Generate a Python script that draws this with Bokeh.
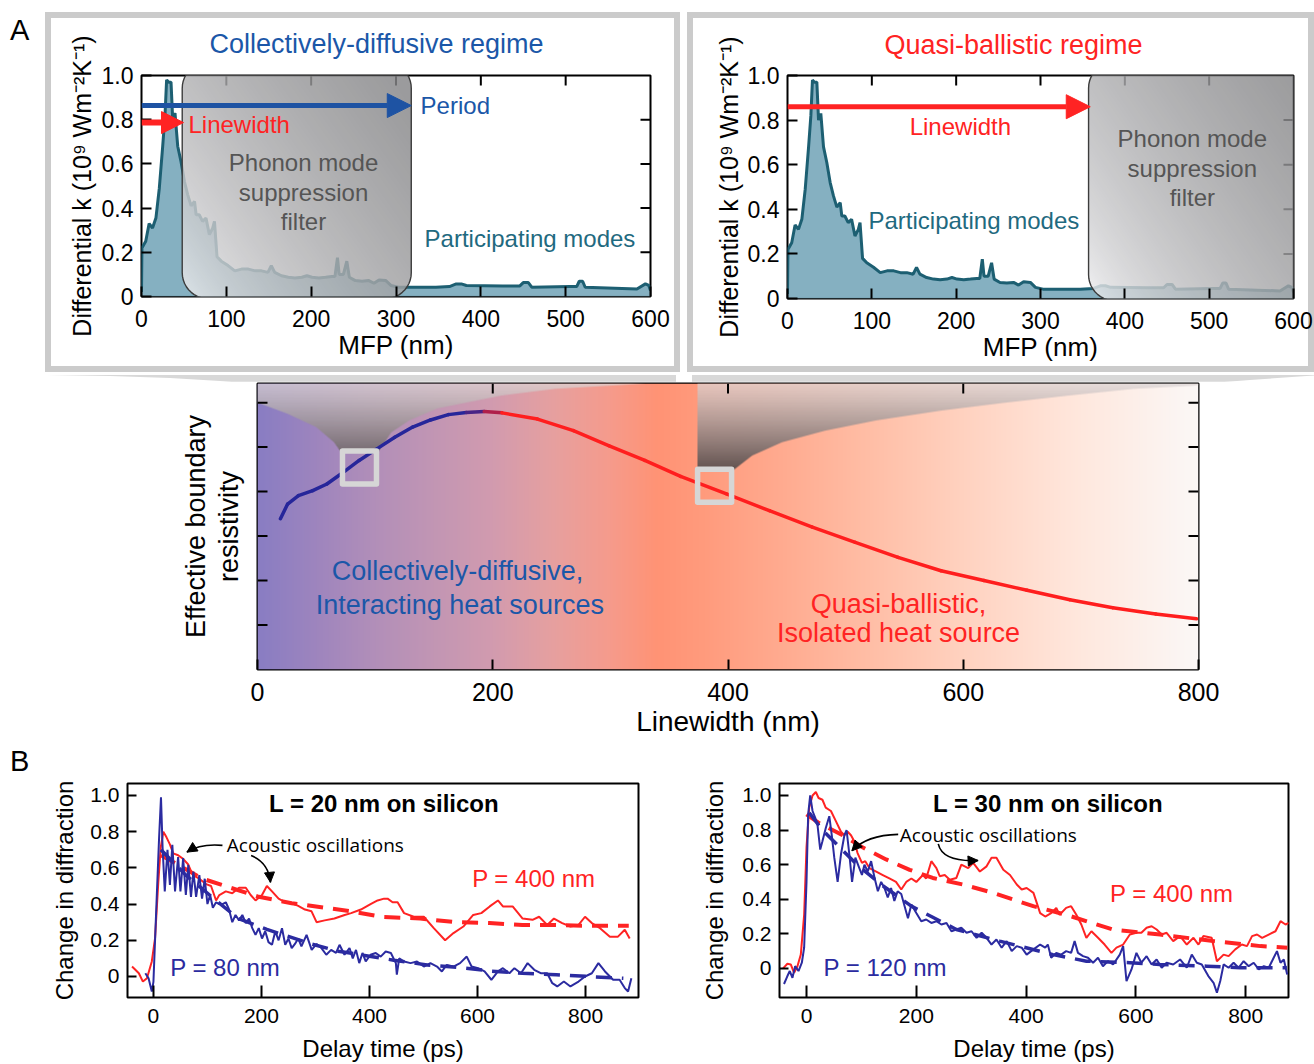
import numpy as np
from bokeh.plotting import figure
from bokeh.models import (Range1d, LinearAxis, FixedTicker, Label, Arrow, NormalHead,
                          Div, Spacer)
from bokeh.layouts import row, column
from bokeh.embed import file_html
from bokeh.resources import INLINE

FONT = "Liberation Sans"
BLUE_T = "#1b57a8"
BLUE_A = "#1e53a3"
RED = "#ff2323"
TEAL = "#1f6a80"
NAVY = "#2b2ba0"
GRAY_T = "#555555"

# ---------------- Panel A (top): differential conductivity spectrum ----------------
mfp_nm = [0, 0.5, 5, 9, 13, 17, 21, 25, 27.7, 29.6,
          32, 34.8, 36.8, 39.5, 42.7, 46.6, 50.6, 54.5, 58.5, 62.5,
          64.4, 68, 72, 76, 80, 84, 86, 89, 94, 102,
          110, 118, 126, 134, 141.5, 149, 153, 157, 165, 173,
          181, 189, 195, 201, 209, 217, 224.5, 228, 231, 233,
          238, 242, 245, 252, 260, 268, 274, 280, 288, 294,
          303, 327, 347, 363, 371, 377, 383, 426, 446, 450,
          456, 460, 505, 513, 516, 520, 523, 584, 594, 598,
          600]
diff_k = [0.02, 0.22, 0.25, 0.33, 0.31, 0.355, 0.49, 0.68, 0.82, 0.98,
          0.97, 0.97, 0.80, 0.83, 0.68, 0.61, 0.52, 0.46, 0.41, 0.43,
          0.37, 0.37, 0.34, 0.355, 0.28, 0.31, 0.34, 0.18, 0.16, 0.14,
          0.116, 0.124, 0.124, 0.116, 0.116, 0.109, 0.139, 0.109, 0.094, 0.087,
          0.084, 0.087, 0.094, 0.087, 0.084, 0.087, 0.09, 0.09, 0.176, 0.10,
          0.10, 0.16, 0.087, 0.072, 0.069, 0.072, 0.06, 0.075, 0.072, 0.05,
          0.042, 0.042, 0.042, 0.045, 0.057, 0.057, 0.05, 0.048, 0.048, 0.063,
          0.063, 0.042, 0.045, 0.045, 0.069, 0.069, 0.042, 0.034, 0.057, 0.05,
          0.027]
mfp_ticks = [0, 100, 200, 300, 400, 500, 600]
mfp_tick_labels = ["0", "100", "200", "300", "400", "500", "600"]
dk_ticks = [0, 0.2, 0.4, 0.6, 0.8, 1.0]
dk_tick_labels = ["0", "0.2", "0.4", "0.6", "0.8", "1.0"]
filter_diffusive_nm = [48, 318]
filter_ballistic_nm = [357, 625]
period_nm = 318
linewidth_diffusive_nm = 49.5
linewidth_ballistic_nm = 359

# ---------------- Panel A (middle): effective boundary resistivity ----------------
linewidth_nm = [19.5, 25.6, 34.8, 46.9, 59, 71.2, 86.4, 101.5, 116.7, 131.9,
                147.1, 162.3, 177.5, 192.7, 207.8, 238, 268.6, 299, 329.3, 359.7,
                398.7, 435.2, 471.7, 508.2, 544.6, 581.1, 617.6, 654.2, 690.6, 727.1,
                763.6, 798.3]
boundary_res = [3.39, 3.72, 3.91, 4.02, 4.17, 4.40, 4.70, 4.96, 5.22, 5.45,
                5.61, 5.73, 5.78, 5.80, 5.77, 5.63, 5.37, 5.03, 4.70, 4.34,
                3.95, 3.57, 3.20, 2.86, 2.52, 2.22, 2.00, 1.78, 1.57, 1.39,
                1.25, 1.14]
lw_ticks = [0, 200, 400, 600, 800]
lw_tick_labels = ["0", "200", "400", "600", "800"]
res_ticks = [1, 2, 3, 4, 5, 6]
highlight_lw = [86.7, 388.6]
highlight_res = [4.54, 4.13]

# ---------------- Panel B: diffraction transients ----------------
t20_p400 = [-39.6, -27, -19.5, -12, -3, 3, 9, 13.4, 18.3, 24,
            30.5, 36.6, 45.7, 55, 64, 73, 85, 97.6, 106.7, 116,
            122, 134, 146, 158.5, 171, 180, 189, 201, 210, 219.5,
            231.7, 244, 256, 268, 280.5, 292.7, 302, 317, 335, 354,
            366, 384, 402, 415, 427,
            433.5, 442.7, 452, 464, 482, 500.6, 519, 540, 555.5, 573.8,
            592, 607, 622.6, 637.8, 647, 665, 683.5, 701.8, 714, 729,
            741.5, 756.7, 772, 787, 799, 811.6, 826.8, 845, 860, 872.6, 881.7]
d20_p400 = [0.055, 0.018, -0.028, -0.01, 0.083, 0.21, 0.52, 0.71, 0.80, 0.77,
            0.73, 0.68, 0.67, 0.65, 0.62, 0.56, 0.54, 0.51, 0.50, 0.42,
            0.45, 0.47, 0.46, 0.49, 0.49, 0.45, 0.42, 0.45, 0.50, 0.47,
            0.43, 0.41, 0.405, 0.39, 0.37, 0.36, 0.30, 0.31, 0.32, 0.34,
            0.35, 0.37, 0.40, 0.42, 0.43,
            0.43, 0.41, 0.41, 0.35, 0.33, 0.33, 0.267, 0.20, 0.24, 0.276,
            0.34, 0.35, 0.387, 0.42, 0.387, 0.387, 0.32, 0.313, 0.33, 0.285,
            0.32, 0.295, 0.276, 0.285, 0.33, 0.295, 0.267, 0.22, 0.22, 0.258, 0.21]
t20_p80 = [-15, -9, -3, 0, 6, 10.4, 14, 17, 21, 26,
           30.5, 35, 40, 45.7, 50, 55, 60, 64.6, 69.5, 74,
           79, 85, 90, 95, 100, 105, 110, 116, 122, 128,
           134, 140, 146, 152, 158.5, 164.6, 171, 177, 183, 189,
           195, 201, 207, 213, 219.5, 225.6, 231.7, 238, 244, 250,
           256, 262, 268, 274, 283.5, 293, 302, 311, 320, 329,
           338, 344.5, 353.7, 363, 369, 375, 381, 387, 393, 402,
           411.6, 420.7, 430,
           439.6, 448.8, 450.6, 455, 464, 476, 488, 500.6, 512.8, 525,
           534, 543, 555.5, 567.7, 580, 589, 601, 613, 625.6, 637.8,
           647, 659, 668.3, 680.5, 692.7, 705, 717, 729, 738.4, 747.6,
           759.8, 772, 787, 799, 811.6, 823.8, 836, 851, 863, 872.6,
           878.7, 884.8]
d20_p80 = [0.018, -0.01, -0.083, -0.03, 0.43, 0.76, 0.99, 0.71, 0.47, 0.70,
           0.506, 0.727, 0.47, 0.66, 0.47, 0.654, 0.45, 0.617, 0.44, 0.58,
           0.44, 0.56, 0.43, 0.54, 0.40, 0.45, 0.38, 0.41, 0.40, 0.40,
           0.41, 0.37, 0.30, 0.34, 0.31, 0.34, 0.295, 0.32, 0.267, 0.23,
           0.267, 0.21, 0.25, 0.19, 0.175, 0.25, 0.20, 0.267, 0.175, 0.21,
           0.157, 0.18, 0.21, 0.166, 0.23, 0.147, 0.18, 0.157, 0.12, 0.147,
           0.13, 0.175, 0.12, 0.157, 0.10, 0.147, 0.074, 0.13, 0.083, 0.12,
           0.13, 0.11, 0.138,
           0.13, 0.074, 0.01, 0.10, 0.083, 0.074, 0.083, 0.055, 0.074, 0.055,
           0.028, 0.064, 0.055, 0.074, 0.11, 0.055, 0.046, 0.028, -0.018, 0.028,
           0.046, 0.018, 0.046, 0.018, 0.074, 0.037, 0.018, 0.018, -0.037, -0.055,
           -0.028, -0.055, -0.028, 0.0, 0.018, 0.074, 0.028, -0.018, -0.018, -0.064,
           -0.083, -0.01]
fit20_p400_t = [14, 91, 195, 256, 366, 421, 494, 561, 622, 683, 738, 800, 880]
fit20_p400_d = [0.67, 0.54, 0.44, 0.405, 0.36, 0.33, 0.32, 0.30, 0.295, 0.285, 0.285, 0.28, 0.28]
fit20_p80_t = [14, 60, 120, 157, 210, 292, 342, 445, 507, 565, 625, 683, 746, 805, 870]
fit20_p80_d = [0.70, 0.56, 0.41, 0.32, 0.26, 0.18, 0.14, 0.09, 0.064, 0.05, 0.03, 0.018, 0.01, 0.0, -0.01]

t30_p400 = [-42.7, -34.8, -28.7, -22.6, -16.5, -10.4, -4.3, 0, 4.9, 11,
            17, 22, 29, 35, 44.5, 53.7, 62.8, 69, 75, 81,
            87, 93, 101, 107, 114.6, 127, 139, 151, 163, 172.6,
            181.7, 191, 200, 212, 218, 227.4, 236.6, 242.7, 251.8, 261,
            273, 282, 294.5, 303.7, 315.8, 328, 337, 346, 358.5, 370.7,
            383, 392, 401, 413.4, 425.6, 434.8,
            445.7, 455, 461, 473, 482, 491.5, 500.6, 509.8, 519, 531,
            543, 555.5, 564.6, 576.8, 589, 601, 610, 619.5, 628.7, 637.8,
            647, 656, 668, 680.5, 692.7, 704.9, 714, 723, 738, 747.6,
            759.8, 768.9, 781, 793, 802.4, 811.6, 820.7, 829.9, 842, 854.3,
            863.4, 872.6, 878.7]
d30_p400 = [0.0, 0.027, 0.023, -0.025, 0.013, 0.08, 0.31, 0.70, 0.93, 1.00,
            1.02, 0.985, 0.975, 0.93, 0.91, 0.85, 0.79, 0.77, 0.79, 0.77,
            0.735, 0.667, 0.61, 0.62, 0.58, 0.56, 0.54, 0.52, 0.50, 0.456,
            0.50, 0.52, 0.50, 0.54, 0.52, 0.62, 0.58, 0.533, 0.54, 0.513,
            0.523, 0.60, 0.58, 0.61, 0.56, 0.59, 0.64, 0.64, 0.57, 0.54,
            0.485, 0.456, 0.465, 0.437, 0.32, 0.30,
            0.32, 0.35, 0.31, 0.35, 0.36, 0.31, 0.254, 0.177, 0.215, 0.177,
            0.138, 0.09, 0.12, 0.138, 0.196, 0.206, 0.206, 0.235, 0.244, 0.225,
            0.196, 0.206, 0.158, 0.187, 0.138, 0.177, 0.138, 0.187, 0.177, 0.042,
            0.08, 0.071, 0.11, 0.138, 0.129, 0.187, 0.196, 0.177, 0.196, 0.215,
            0.273, 0.254, 0.263]
t30_p120 = [-41, -34.8, -30.5, -25.6, -20.7, -14.6, -8.5, -4.3, 0, 3,
            6.7, 11, 15.9, 20, 25, 29, 35, 41.5, 46, 50.6,
            56.7, 62.8, 69, 73, 78, 83, 89, 95, 101, 105.5,
            111.6, 117.7, 124, 130, 136, 142, 148, 154, 160, 166,
            172.6, 178.7, 184.8, 191, 200, 209, 218, 227.4, 236.6, 245.7,
            255, 264, 273, 282, 291.5, 300.6, 309.8, 319, 328, 337,
            346, 355.5, 364.6, 373.8, 383, 392, 401, 413.4, 425.6, 434.8,
            439.6, 445.7, 455, 464, 473, 482, 488.4, 494.5, 503.7, 512.8,
            522, 531, 540, 549, 558.5, 570.7, 576.8, 582.9, 592, 601,
            610, 619.5, 628.7, 637.8, 647, 656, 668, 680.5, 692.7, 701.8,
            711, 720, 732, 741.5, 747.6, 753.7, 759.8, 768.9, 778, 787,
            796.3, 805.5, 814.6, 823.8, 833, 842, 851, 857, 863.4, 869.5,
            875.6]
d30_p120 = [-0.09, -0.044, -0.015, -0.054, 0.013, -0.015, 0.033, 0.12, 0.50, 0.89,
            1.00, 0.91, 0.87, 0.83, 0.687, 0.735, 0.81, 0.88, 0.77, 0.64,
            0.50, 0.66, 0.77, 0.80, 0.66, 0.50, 0.64, 0.59, 0.54, 0.60,
            0.56, 0.62, 0.523, 0.446, 0.50, 0.465, 0.41, 0.465, 0.39, 0.446,
            0.43, 0.36, 0.29, 0.37, 0.32, 0.273, 0.283, 0.263, 0.273, 0.254,
            0.263, 0.215, 0.225, 0.235, 0.206, 0.215, 0.177, 0.206, 0.177, 0.138,
            0.167, 0.12, 0.158, 0.10, 0.129, 0.12, 0.08, 0.11, 0.138, 0.12,
            0.138, 0.062, 0.09, 0.08, 0.10, 0.09, 0.158, 0.09, 0.071, 0.062,
            0.033, 0.062, 0.013, 0.042, 0.023, 0.08, 0.129, -0.073, -0.006, 0.09,
            0.033, 0.071, 0.023, 0.052, 0.004, 0.033, 0.023, 0.052, 0.004, 0.08,
            0.033, 0.023, -0.044, -0.083, -0.14, -0.073, 0.023, 0.004, 0.033, 0.004,
            0.042, 0.013, 0.033, -0.006, 0.013, 0.004, 0.062, 0.10, 0.033, 0.052,
            -0.035]
fit30_p400_t = [0, 23, 66, 102, 145, 188, 230, 285, 340, 413, 473, 558, 644, 741, 827, 876]
fit30_p400_d = [0.89, 0.84, 0.77, 0.70, 0.63, 0.57, 0.523, 0.485, 0.437, 0.36, 0.31, 0.225, 0.196, 0.158, 0.129, 0.12]
fit30_p120_t = [5, 29, 92, 136, 191, 273, 352, 449, 510, 589, 644, 729, 790, 851, 875]
fit30_p120_d = [0.90, 0.80, 0.60, 0.485, 0.36, 0.225, 0.158, 0.08, 0.042, 0.033, 0.023, 0.013, 0.004, 0.004, 0.004]

delay_ticks = [0, 200, 400, 600, 800]
delay_tick_labels = ["0", "200", "400", "600", "800"]
diff_ticks = [0, 0.2, 0.4, 0.6, 0.8, 1.0]
diff_tick_labels = ["0", "0.2", "0.4", "0.6", "0.8", "1.0"]


# ---------------- helpers ----------------
def base_fig(xr, yr, fw, fh, bl, br, bt, bb, title=None, **kw):
    p = figure(x_range=Range1d(*xr), y_range=Range1d(*yr), frame_width=fw, frame_height=fh,
               min_border_left=bl, min_border_right=br, min_border_top=bt, min_border_bottom=bb,
               output_backend="svg", toolbar_location=None, tools="", title=title,
               x_axis_type=None, y_axis_type=None, **kw)
    p.outline_line_color = "black"
    p.outline_line_width = 2
    p.outline_line_alpha = 1
    p.background_fill_color = "white"
    p.border_fill_color = "white"
    return p


def add_axis(p, side, ticks, labels, tick_len=10, size=None, standoff=8,
             label=None, label_size=None, label_standoff=5):
    ax = LinearAxis(ticker=FixedTicker(ticks=ticks))
    ax.axis_line_color = None
    ax.major_tick_in = tick_len
    ax.major_tick_out = 0
    ax.major_tick_line_width = 2
    ax.major_tick_line_color = "black"
    ax.minor_tick_line_color = None
    ax.major_label_text_font = FONT
    if labels:
        ax.major_label_overrides = {t: l for t, l in zip(ticks, labels)}
        ax.major_label_text_font_size = f"{size}px"
        ax.major_label_standoff = standoff
        ax.major_label_text_color = "black"
    if label is not None:
        ax.axis_label = label
        ax.axis_label_text_font = FONT
        ax.axis_label_text_font_size = f"{label_size}px"
        ax.axis_label_text_font_style = "normal"
        ax.axis_label_text_color = "black"
        ax.axis_label_standoff = label_standoff
    p.add_layout(ax, side)
    return ax


def tick_marks(p, side, ticks, length=10):
    """Inward tick marks on an unlabeled side of the frame."""
    n = len(ticks)
    if side == "above":
        p.ray(x=ticks, y=[p.y_range.end] * n, length=length, length_units="screen",
              angle=-np.pi / 2, line_color="black", line_width=2)
    elif side == "right":
        p.ray(x=[p.x_range.end] * n, y=ticks, length=length, length_units="screen",
              angle=np.pi, line_color="black", line_width=2)
    elif side == "left":
        p.ray(x=[p.x_range.start] * n, y=ticks, length=length, length_units="screen",
              angle=0, line_color="black", line_width=2)


def lab(p, x, y, text, size, color, align="left", font=FONT, style="normal"):
    p.add_layout(Label(x=x, y=y, text=text, text_font=font, text_font_size=f"{size}px",
                       text_color=color, text_align=align, text_baseline="middle",
                       text_font_style=style))


def pack(r, g, b, a):
    shape = np.broadcast(np.asarray(r), np.asarray(g), np.asarray(b), np.asarray(a)).shape
    out = np.zeros(shape, dtype=np.uint32)
    v = out.view(np.uint8).reshape(shape + (4,))
    for k, c in enumerate((r, g, b, a)):
        v[..., k] = np.clip(np.broadcast_to(c, shape), 0, 255).astype(np.uint8)
    return out


def rrect(w, h, r, n=12):
    pts = []
    for cx, cy, a0 in ((w - r, h - r, 0), (r, h - r, 90), (r, r, 180), (w - r, r, 270)):
        a = np.radians(a0 + np.linspace(0, 90, n))
        pts += list(zip(cx + r * np.cos(a), cy + r * np.sin(a)))
    pts.append(pts[0])
    return np.array([q[0] for q in pts]), np.array([q[1] for q in pts])


def add_filter(p, band, y0, y1, sx, sy):
    x0, x1 = band
    w = (x1 - x0) * sx
    h = (y1 - y0) * sy
    nx, ny = int(round(w)), int(round(h))
    r = 26.0
    X, Y = np.meshgrid(np.arange(nx) + 0.5, np.arange(ny) + 0.5)
    dx = np.maximum(np.maximum(r - X, X - (nx - r)), 0)
    dy = np.maximum(np.maximum(r - Y, Y - (ny - r)), 0)
    m = np.clip(r + 0.5 - np.hypot(dx, dy), 0, 1)
    u = np.clip(0.62 * X / nx + 0.45 * Y / ny, 0, 1)
    g = 252 - 118 * u ** 0.55
    img = pack(g, g, g + 2, 210 * m)
    p.image_rgba(image=[img], x=x0, y=y0, dw=x1 - x0, dh=y1 - y0)
    px, py = rrect(w, h, r)
    p.line(x=list(x0 + px / sx), y=list(y0 + py / sy), line_color="#3c3c3c", line_width=1.4)


def curved_arrow(p, x0, y0, cx, cy, x1, y1):
    p.quadratic(x0=[x0], y0=[y0], x1=[x1], y1=[y1], cx=[cx], cy=[cy],
                line_color="black", line_width=1.6)
    sx = x1 - 0.1 * (x1 - cx)
    sy = y1 - 0.1 * (y1 - cy)
    p.add_layout(Arrow(end=NormalHead(size=10, fill_color="black", line_color="black"),
                       x_start=sx, y_start=sy, x_end=x1, y_end=y1,
                       line_color="black", line_width=1.6))


def spectrum_panel(fw, fh, bl, br, bt, bb, title, tcolor, toffset, ylab_standoff, tstandoff):
    p = base_fig((0, 600), (0, 1.0), fw, fh, bl, br, bt, bb, title=title,
                 styles={"box-shadow": "inset 0 0 0 6px #cbcbcb"})
    p.border_fill_color = None
    p.title.align = "left"
    p.title.vertical_align = "top"
    p.title.offset = toffset
    p.title.text_font = FONT
    p.title.text_font_size = "27px"
    p.title.text_font_style = "normal"
    p.title.text_color = tcolor
    p.title.standoff = tstandoff
    p.varea(x=mfp_nm, y1=0, y2=diff_k, fill_color="#7eacbe", fill_alpha=0.95)
    p.line(mfp_nm, diff_k, line_color="#1d5f72", line_width=3)
    add_axis(p, "left", dk_ticks, dk_tick_labels, size=23, standoff=8,
             label="Differential k (10\u2079 Wm\u207b\u00b2K\u207b\u00b9)", label_size=25,
             label_standoff=ylab_standoff)
    add_axis(p, "below", mfp_ticks, mfp_tick_labels, size=23, standoff=13,
             label="MFP (nm)", label_size=26, label_standoff=0)
    tick_marks(p, "above", mfp_ticks[1:-1])
    tick_marks(p, "right", dk_ticks[1:-1])
    return p


# ---------------- top-left panel ----------------
pA1 = spectrum_panel(509, 221, 96, 30, 63, 76, "Collectively-diffusive regime", BLUE_T, 68, 3, 30)
add_filter(pA1, filter_diffusive_nm, -0.01, 1.06, 509 / 600, 221.0)
pA1.add_layout(Arrow(end=NormalHead(size=24, fill_color=BLUE_A, line_color=BLUE_A),
                     x_start=0, y_start=0.864, x_end=period_nm, y_end=0.864,
                     line_color=BLUE_A, line_width=5))
pA1.add_layout(Arrow(end=NormalHead(size=22, fill_color=RED, line_color=RED),
                     x_start=0, y_start=0.787, x_end=linewidth_diffusive_nm, y_end=0.787,
                     line_color=RED, line_width=6))
lab(pA1, 329, 0.864, "Period", 24, BLUE_T)
lab(pA1, 55.4, 0.778, "Linewidth", 24, RED)
lab(pA1, 191, 0.606, "Phonon mode", 24, GRAY_T, "center")
lab(pA1, 191, 0.471, "suppression", 24, GRAY_T, "center")
lab(pA1, 191, 0.339, "filter", 24, GRAY_T, "center")
lab(pA1, 333.7, 0.262, "Participating modes", 24, TEAL)

# ---------------- top-right panel ----------------
pA2 = spectrum_panel(506, 223, 100, 21, 61, 76, "Quasi-ballistic regime", RED, 97, 2, 28)
add_filter(pA2, filter_ballistic_nm, -0.01, 1.06, 506 / 600, 223.0)
pA2.add_layout(Arrow(end=NormalHead(size=24, fill_color=RED, line_color=RED),
                     x_start=0, y_start=0.86, x_end=linewidth_ballistic_nm, y_end=0.86,
                     line_color=RED, line_width=5))
lab(pA2, 205, 0.77, "Linewidth", 24, RED, "center")
lab(pA2, 96, 0.349, "Participating modes", 24, TEAL)
lab(pA2, 480, 0.716, "Phonon mode", 24, GRAY_T, "center")
lab(pA2, 480, 0.582, "suppression", 24, GRAY_T, "center")
lab(pA2, 480, 0.452, "filter", 24, GRAY_T, "center")

# ---------------- connector band (zoom funnel between the rows) ----------------
CONNECTOR_SVG = ('<svg width="1314" height="9" style="display:block">'
                 '<polygon points="47,0 110,1 170,3 220,6 257,9 676,9 676,0" fill="#d8d8d8"/>'
                 '<polygon points="692,0 692,9 1198,9 1250,5 1314,0.5 1314,0" fill="#d8d8d8"/>'
                 '</svg>')
divC = Div(text=CONNECTOR_SVG, width=1314, height=9, margin=0)

# ---------------- middle panel ----------------
pM = base_fig((0, 800), (0, 6.43), 941, 286, 257, 116, 2, 76)
bg_x = [0, 50, 100, 150, 200, 250, 300, 340, 380, 450, 520, 600, 700, 800]
bg_rgb = np.array([(137, 125, 195), (158, 133, 190), (178, 143, 185), (194, 150, 180),
                   (210, 155, 175), (230, 160, 160), (246, 155, 140), (255, 147, 117),
                   (255, 155, 125), (255, 172, 145), (255, 190, 166), (255, 210, 192),
                   (255, 232, 222), (251, 248, 247)], dtype=float)
gx = (np.arange(800) + 0.5)
bgr = np.interp(gx, bg_x, bg_rgb[:, 0])[None, :]
bgg = np.interp(gx, bg_x, bg_rgb[:, 1])[None, :]
bgb = np.interp(gx, bg_x, bg_rgb[:, 2])[None, :]
pM.image_rgba(image=[pack(bgr, bgg, bgb, 255)], x=0, y=0, dw=800, dh=6.43)

lf_x = [0, 25.5, 49.9, 65, 70.6, 103, 113.7, 129, 153, 177.5, 207.6, 253, 299, 330]
lf_v = [6.0, 5.75, 5.45, 5.11, 4.90, 4.90, 5.33, 5.6, 5.87, 6.0, 6.16, 6.31, 6.38, 6.43]
rf_x = [374, 405, 420.6, 446, 482.6, 526, 581, 636, 690, 745, 796, 800]
rf_v = [4.49, 4.49, 4.81, 5.11, 5.37, 5.6, 5.82, 6.0, 6.16, 6.31, 6.38, 6.40]
nxm, nym = 941, 286
Xc = (np.arange(nxm) + 0.5) / nxm * 800
Vc = (np.arange(nym) + 0.5) / nym * 6.43
bnd = np.full(nxm, 99.0)
mL = Xc <= lf_x[-1]
bnd[mL] = np.interp(Xc[mL], lf_x, lf_v)
mR = Xc >= rf_x[0]
bnd[mR] = np.interp(Xc[mR], rf_x, rf_v)
V = Vc[:, None]
msk = np.clip((V - bnd[None, :]) * 44.5 + 0.5, 0, 1)
tt = np.clip((6.43 - V) / 1.95, 0, 1)
gg = 220 - 140 * tt
aa = (0.72 + 0.2 * tt) * msk * 255
pM.image_rgba(image=[pack(gg + 2, gg - 6, gg - 6, aa)], x=0, y=0, dw=800, dh=6.43)

lw_a = np.array(linewidth_nm)
rb_a = np.array(boundary_res)
xm = (lw_a[:-1] + lw_a[1:]) / 2
fr = np.clip((xm - 180) / 32, 0, 1)
seg_cols = ["#%02x%02x%02x" % (int(38 + 217 * f), int(38 - 8 * f), int(154 - 124 * f)) for f in fr]
pM.segment(x0=lw_a[:-1], y0=rb_a[:-1], x1=lw_a[1:], y1=rb_a[1:], line_color=seg_cols,
           line_width=3.5, line_cap="round")
pM.rect(x=highlight_lw, y=highlight_res, width=34, height=33, width_units="screen",
        height_units="screen", fill_color=None, line_color="#d6d6d6", line_width=5.5,
        line_join="round")

add_axis(pM, "left", [], None, label="resistivity", label_size=27, label_standoff=14)
add_axis(pM, "left", [], None, label="Effective boundary", label_size=27, label_standoff=0)
add_axis(pM, "below", lw_ticks, lw_tick_labels, size=25, standoff=13,
         label="Linewidth (nm)", label_size=28, label_standoff=2)
tick_marks(pM, "left", res_ticks)
tick_marks(pM, "right", res_ticks)
tick_marks(pM, "above", lw_ticks[1:-1])
lab(pM, 170, 2.22, "Collectively-diffusive,", 27, BLUE_T, "center")
lab(pM, 172, 1.46, "Interacting heat sources", 27, BLUE_T, "center")
lab(pM, 545, 1.48, "Quasi-ballistic,", 27, RED, "center")
lab(pM, 545, 0.81, "Isolated heat source", 27, RED, "center")


# ---------------- bottom panels ----------------
def transient_panel(xr, yr, fw, bl, br, lbl_standoff):
    p = base_fig(xr, yr, fw, 214, bl, br, 38, 66)
    add_axis(p, "left", diff_ticks, diff_tick_labels, tick_len=9, size=21, standoff=8,
             label="Change in diffraction", label_size=24, label_standoff=lbl_standoff)
    add_axis(p, "below", delay_ticks, delay_tick_labels, tick_len=12, size=21, standoff=11,
             label="Delay time (ps)", label_size=24, label_standoff=9)
    return p


pB1 = transient_panel((-48, 898), (-0.116, 1.066), 511, 97, 51, 9)
pB1.line(t20_p400, d20_p400, line_color=RED, line_width=2)
pB1.line(fit20_p400_t, fit20_p400_d, line_color=RED, line_width=4, line_dash="16 10")
pB1.line(t20_p80, d20_p80, line_color=NAVY, line_width=2)
pB1.line(fit20_p80_t, fit20_p80_d, line_color=NAVY, line_width=3.5, line_dash="16 10")
lab(pB1, 427, 0.956, "L = 20 nm on silicon", 24, "black", "center", style="bold")
lab(pB1, 135.8, 0.724, "Acoustic oscillations", 19, "black", font="Open Sans")
lab(pB1, 590, 0.541, "P = 400 nm", 24, RED)
lab(pB1, 31, 0.051, "P = 80 nm", 24, NAVY)
curved_arrow(pB1, 127.8, 0.724, 87, 0.735, 62, 0.687)
curved_arrow(pB1, 180.8, 0.668, 213, 0.63, 216.7, 0.52)

pB2 = transient_panel((-49.2, 878), (-0.168, 1.069), 509, 90, 26, 11)
pB2.line(t30_p400, d30_p400, line_color=RED, line_width=2)
pB2.line(fit30_p400_t, fit30_p400_d, line_color=RED, line_width=4, line_dash="16 10")
pB2.line(t30_p120, d30_p120, line_color=NAVY, line_width=2)
pB2.line(fit30_p120_t, fit30_p120_d, line_color=NAVY, line_width=3.5, line_dash="16 10")
lab(pB2, 440, 0.952, "L = 30 nm on silicon", 24, "black", "center", style="bold")
lab(pB2, 170, 0.769, "Acoustic oscillations", 19, "black", font="Open Sans")
lab(pB2, 553, 0.435, "P = 400 nm", 24, RED)
lab(pB2, 31, 0.008, "P = 120 nm", 24, NAVY)
curved_arrow(pB2, 167, 0.775, 109, 0.77, 82.7, 0.68)
curved_arrow(pB2, 240, 0.72, 247.5, 0.614, 312.6, 0.624)

# ---------------- layout ----------------
LETTER = ("<div style=\"position:relative;left:10px;top:{top}px;font-family:'Liberation Sans';"
          "font-size:29px;line-height:33px;color:black\">{t}</div>")
divA = Div(text=LETTER.format(top=2, t="A"), width=45, height=360, margin=0)
divB = Div(text=LETTER.format(top=0, t="B"), width=30, height=318, margin=0)

layout = column(Spacer(height=12),
                row(divA, pA1, Spacer(width=7), pA2),
                divC,
                pM,
                row(divB, pB1, pB2))

open("out.html", "w").write(file_html(layout, INLINE))
